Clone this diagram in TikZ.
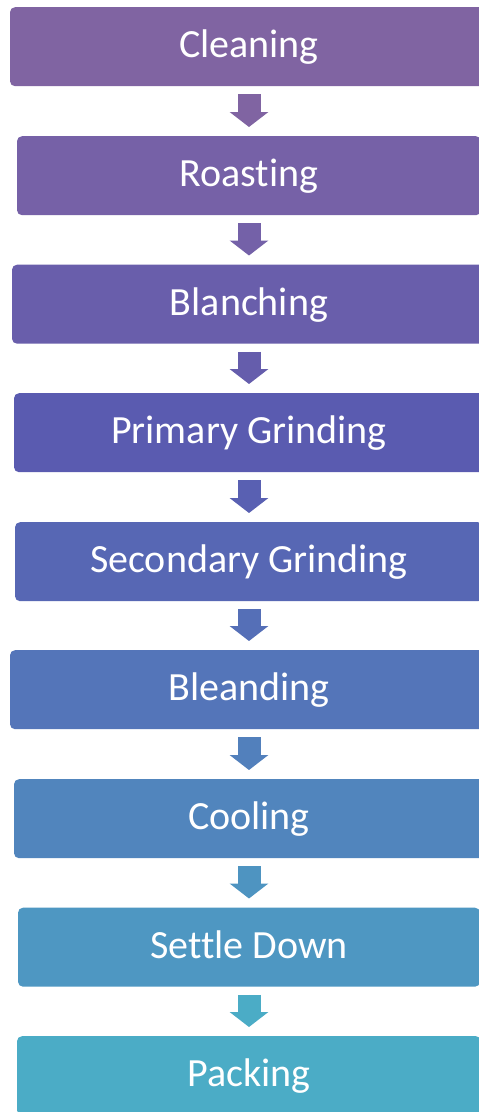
\documentclass[tikz,border=0pt]{standalone}
\usepackage{fontspec}
\setmainfont{Carlito}[Ligatures={NoCommon,NoRare}]
\usetikzlibrary{arrows.meta}
\definecolor{c0}{RGB}{128,100,162}
\definecolor{c1}{RGB}{118,97,167}
\definecolor{c2}{RGB}{105,94,171}
\definecolor{c3}{RGB}{90,91,176}
\definecolor{c4}{RGB}{87,103,180}
\definecolor{c5}{RGB}{84,117,185}
\definecolor{c6}{RGB}{81,133,189}
\definecolor{c7}{RGB}{78,151,194}
\definecolor{c8}{RGB}{75,172,198}
\colorlet{a0}{c0}
\colorlet{a1}{c2!14!c1}
\colorlet{a2}{c3!29!c2}
\colorlet{a3}{c4!43!c3}
\colorlet{a4}{c5!57!c4}
\colorlet{a5}{c6!71!c5}
\colorlet{a6}{c7!86!c6}
\colorlet{a7}{c8}
\tikzset{
  stepbox/.style={draw=none, rounded corners=5pt, inner sep=0pt, anchor=north,
    minimum height=79pt, text height=28pt, text depth=6pt, text=white,
    font=\fontsize{40}{48}\selectfont},
  flowarrow/.style={line width=23pt, -{Triangle[width=38pt,length=15pt]}}
}
\begin{document}
\begin{tikzpicture}[x=1pt,y=1pt]
\clip (0,0) rectangle (479,-1112);
\fill[white] (0,0) rectangle (479,-1112);
\node[stepbox, fill=c0, minimum width=478pt] (s0) at (249,-7) {Cleaning};
\node[stepbox, fill=c1, minimum width=464pt] (s1) at (249,-136) {Roasting};
\node[stepbox, fill=c2, minimum width=474pt] (s2) at (249,-264.5) {Blanching};
\node[stepbox, fill=c3, minimum width=470pt] (s3) at (249,-393) {Primary Grinding};
\node[stepbox, fill=c4, minimum width=468pt] (s4) at (249,-522) {Secondary Grinding};
\node[stepbox, fill=c5, minimum width=478pt] (s5) at (249,-650) {Bleanding};
\node[stepbox, fill=c6, minimum width=470pt] (s6) at (249,-779) {Cooling};
\node[stepbox, fill=c7, minimum width=462pt] (s7) at (249,-907.5) {Settle Down};
\node[stepbox, fill=c8, minimum width=464pt] (s8) at (249,-1036) {Packing};
\foreach \i/\j in {0/1,1/2,2/3,3/4,4/5,5/6,6/7,7/8}{
  \draw[flowarrow, draw=a\i, fill=a\i] ([yshift=-8pt]s\i.south) -- ([yshift=9pt]s\j.north);
}
\end{tikzpicture}
\end{document}
